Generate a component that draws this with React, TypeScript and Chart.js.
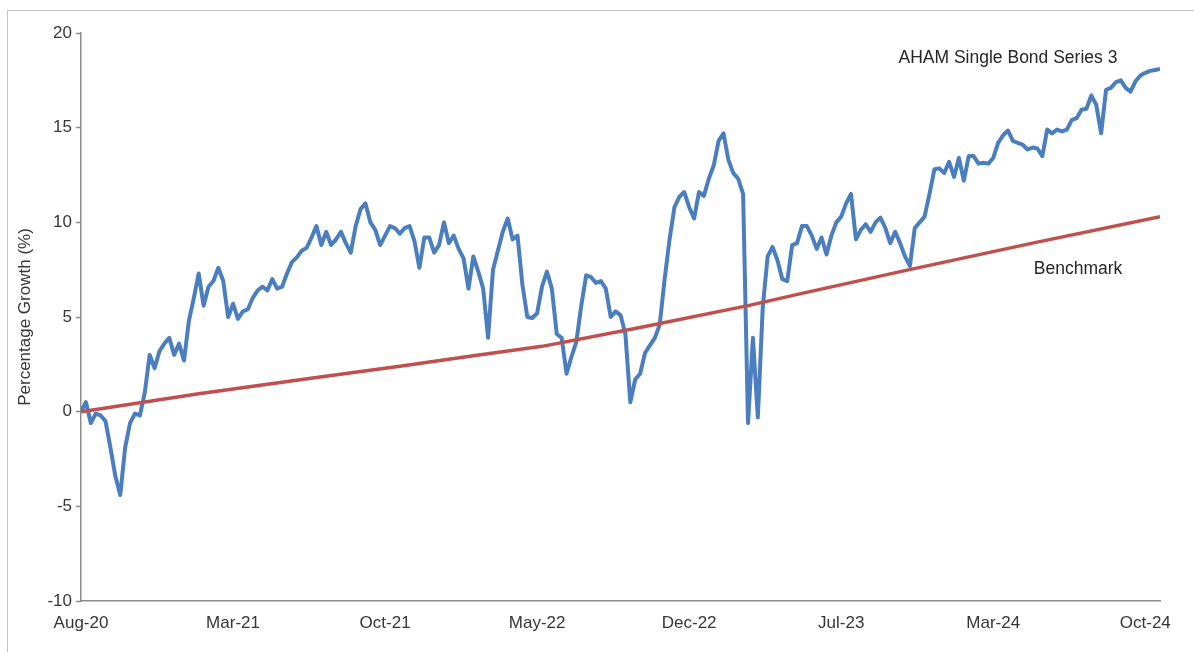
import { useEffect, useRef } from "react";
import { Chart, registerables } from "chart.js";

Chart.register(...registerables);

// ---- data (weekly points from Aug-20 to Oct-24) ----
const tickLabels = ["Aug-20", "Mar-21", "Oct-21", "May-22", "Dec-22", "Jul-23", "Mar-24", "Oct-24"];
const tickWeeks = [0, 31, 62, 93, 124, 155, 186, 217];

const fundName = "AHAM Single Bond Series 3";
const benchmarkName = "Benchmark";

const fundWeekly = [
  0.0, 0.5, -0.6, -0.1, -0.2, -0.5, -1.9, -3.4, -4.4, -1.9,
  -0.6, -0.1, -0.2, 1.0, 3.0, 2.3, 3.2, 3.6, 3.9, 3.0,
  3.6, 2.7, 4.8, 6.0, 7.3, 5.6, 6.6, 6.9, 7.6, 6.9,
  5.0, 5.7, 4.9, 5.3, 5.4, 6.0, 6.4, 6.6, 6.4, 7.0,
  6.5, 6.6, 7.3, 7.9, 8.15, 8.5, 8.65, 9.2, 9.8, 8.8,
  9.5, 8.8, 9.1, 9.5, 8.9, 8.4, 9.8, 10.7, 11.0, 10.0,
  9.6, 8.8, 9.3, 9.8, 9.7, 9.4, 9.7, 9.8, 9.0, 7.6,
  9.2, 9.2, 8.4, 8.8, 10.0, 8.9, 9.3, 8.6, 8.1, 6.5,
  8.2, 7.4, 6.5, 3.9, 7.5, 8.5, 9.5, 10.2, 9.1, 9.3,
  6.7, 5.0, 4.95, 5.2, 6.6, 7.4, 6.5, 4.1, 3.9, 2.0,
  2.9, 3.7, 5.6, 7.2, 7.1, 6.8, 6.9, 6.5, 5.0, 5.3,
  5.1, 4.1, 0.5, 1.7, 2.0, 3.1, 3.5, 3.9, 4.6, 7.0,
  9.1, 10.8, 11.35, 11.6, 10.8, 10.2, 11.6, 11.4, 12.3, 13.0,
  14.3, 14.7, 13.3, 12.6, 12.3, 11.5, -0.6, 3.9, -0.3, 5.5,
  8.2, 8.7, 8.0, 7.0, 6.9, 8.8, 8.9, 9.8, 9.8, 9.3,
  8.6, 9.2, 8.3, 9.3, 10.0, 10.3, 11.0, 11.5, 9.1, 9.6,
  9.9, 9.5, 10.0, 10.25, 9.7, 8.9, 9.5, 8.9, 8.2, 7.7,
  9.7, 10.0, 10.3, 11.5, 12.8, 12.85, 12.6, 13.2, 12.4, 13.4,
  12.2, 13.5, 13.5, 13.1, 13.15, 13.1, 13.4, 14.2, 14.6, 14.85,
  14.3, 14.2, 14.1, 13.85, 13.95, 13.9, 13.5, 14.9, 14.7, 14.9,
  14.8, 14.9, 15.4, 15.5, 15.95, 16.0, 16.7, 16.2, 14.7, 17.0,
  17.1, 17.4, 17.5, 17.1, 16.9, 17.45, 17.75, 17.9, 18.0, 18.05,
  18.1,
];

const benchmarkWeeks = [0, 24, 48, 65, 80, 94, 114, 136, 147, 168, 194, 220];
const benchmarkValues = [0, 0.95, 1.8, 2.4, 2.95, 3.45, 4.45, 5.6, 6.25, 7.45, 8.9, 10.3];

// in-chart series labels (data coordinates: week, value)
const noteTexts = [fundName, benchmarkName];
const noteWeeks = [189, 203.3];
const noteValues = [18.65, 7.5];

const FONT = "'Liberation Sans', Arial, Helvetica, sans-serif";
const TEXT = "#363636";
const AXIS = "#8c8c8c";
const BLUE = "#4a7ebf";
const RED = "#c0504d";

export default function App() {
  const ref = useRef<HTMLCanvasElement>(null);

  useEffect(() => {
    if (!ref.current) return;
    const fundPoints = fundWeekly.map((v, i) => ({ x: i, y: v }));
    const benchPoints = benchmarkWeeks.map((w, i) => ({ x: w, y: benchmarkValues[i] }));

    const notesPlugin = {
      id: "seriesNotes",
      afterDatasetsDraw(chart: any) {
        const { ctx, scales } = chart;
        ctx.save();
        ctx.font = `17.5px ${FONT}`;
        ctx.fillStyle = "#262626";
        ctx.textAlign = "center";
        ctx.textBaseline = "middle";
        noteTexts.forEach((t, i) => {
          ctx.fillText(t, scales.x.getPixelForValue(noteWeeks[i]), scales.y.getPixelForValue(noteValues[i]));
        });
        ctx.restore();
      },
    };

    const chart = new Chart(ref.current, {
      type: "line",
      data: {
        datasets: [
          {
            label: benchmarkName,
            data: benchPoints,
            borderColor: RED,
            backgroundColor: RED,
            borderWidth: 3.5,
            pointRadius: 0,
            order: 0,
          },
          {
            label: fundName,
            data: fundPoints,
            borderColor: BLUE,
            backgroundColor: BLUE,
            borderWidth: 4,
            borderJoinStyle: "round",
            pointRadius: 0,
            order: 1,
          },
        ],
      },
      options: {
        responsive: false,
        animation: false,
        events: [],
        layout: { padding: { left: 0, right: 34, top: 33, bottom: 0 } },
        plugins: { legend: { display: false }, tooltip: { enabled: false } },
        scales: {
          x: {
            type: "linear",
            min: 0,
            max: 220,
            afterBuildTicks: (s: any) => {
              s.ticks = tickWeeks.map((v) => ({ value: v }));
            },
            afterFit: (s: any) => {
              s.height = 51;
            },
            ticks: {
              autoSkip: false,
              maxRotation: 0,
              padding: 12,
              color: TEXT,
              font: { family: FONT, size: 17 },
              callback: (_v: any, i: number) => tickLabels[i] ?? "",
            },
            grid: { drawOnChartArea: false, drawTicks: false },
            border: { display: true, color: AXIS, width: 1.5 },
          },
          y: {
            min: -10,
            max: 20,
            afterFit: (s: any) => {
              s.width = 81;
            },
            ticks: {
              stepSize: 5,
              padding: 4,
              color: TEXT,
              font: { family: FONT, size: 17 },
            },
            grid: { drawOnChartArea: false, drawTicks: true, tickLength: 5, color: AXIS, tickWidth: 1.5 },
            border: { display: true, color: AXIS, width: 1.5 },
            title: {
              display: true,
              text: "Percentage Growth (%)",
              color: TEXT,
              font: { family: FONT, size: 17 },
              padding: { top: 15, bottom: 0 },
            },
          },
        },
      },
      plugins: [notesPlugin],
    } as any);

    return () => chart.destroy();
  }, []);

  return (
    <div style={{ position: "fixed", left: 0, top: 0, width: 1194, height: 652, overflow: "hidden", background: "#fff" }}>
      <div
        style={{
          position: "absolute",
          left: 7,
          top: 10,
          width: 1200,
          height: 700,
          borderTop: "1.5px solid #c4c4c4",
          borderLeft: "1.5px solid #c4c4c4",
        }}
      />
      <canvas ref={ref} width={1194} height={652} style={{ position: "absolute", left: 0, top: 0 }} />
    </div>
  );
}
